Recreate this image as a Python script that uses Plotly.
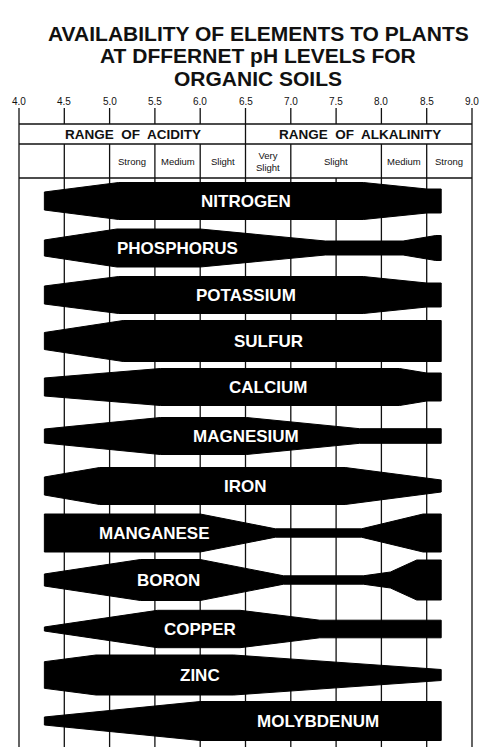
import plotly.graph_objects as go

# pH ticks and ranges
ticks = [4.0, 4.5, 5.0, 5.5, 6.0, 6.5, 7.0, 7.5, 8.0, 8.5, 9.0]
sub_labels = ["Strong", "Medium", "Slight", "Very<br>Slight", "Slight", "Medium", "Strong"]
sub_pos = [5.25, 5.75, 6.25, 6.75, 7.5, 8.25, 8.75]

# elements: name, center row (px), label pH, profile pH points, half-widths
elements = ["NITROGEN", "PHOSPHORUS", "POTASSIUM", "SULFUR", "CALCIUM", "MAGNESIUM",
            "IRON", "MANGANESE", "BORON", "COPPER", "ZINC", "MOLYBDENUM"]
row_y = [185, 232, 279, 325, 371, 420, 470, 517, 564, 613, 659, 705]
label_ph = [6.5, 5.75, 6.5, 6.75, 6.75, 6.5, 6.5, 5.5, 5.65, 6.0, 6.0, 7.3]
prof_ph = [
    [4.28, 5.1, 7.8, 8.5, 8.66],
    [4.28, 5.08, 6.0, 7.38, 8.24, 8.6, 8.66],
    [4.28, 5.1, 7.8, 8.5, 8.66],
    [4.28, 5.15, 8.66],
    [4.28, 5.56, 8.2, 8.5, 8.66],
    [4.28, 5.56, 6.51, 7.76, 8.66],
    [4.28, 4.89, 7.6, 8.66],
    [4.28, 6.0, 6.83, 7.78, 8.46, 8.66],
    [4.28, 5.34, 6.0, 6.92, 7.8, 8.1, 8.39, 8.66],
    [4.28, 5.53, 6.44, 7.32, 8.66],
    [4.28, 4.85, 6.37, 8.66],
    [4.28, 6.0, 8.66],
]
prof_half = [
    [9, 18.5, 18.5, 12, 12],
    [8, 19, 19, 7, 7, 12.5, 12.5],
    [9, 18.5, 18.5, 12, 12],
    [8.5, 20.5, 20.5],
    [9, 18.5, 18.5, 14, 14],
    [7, 18.5, 18.5, 7.3, 7.3],
    [9, 18.5, 18.5, 6],
    [19, 19, 4.2, 4.2, 19, 19],
    [6, 20.5, 20.5, 4.2, 4.2, 8, 20, 20],
    [2, 18.7, 18.7, 8.8, 8.8],
    [13.3, 20, 20, 5.5],
    [4, 19.5, 19.5],
]

px_per_ph = 90.6
x0 = 11  # page body adds an 8px offset
fig = go.Figure()

for name, yc, lx, xs, hs in zip(elements, row_y, label_ph, prof_ph, prof_half):
    px_x = xs + xs[::-1] + [xs[0]]
    px_y = [yc - h for h in hs] + [yc + h for h in hs[::-1]] + [yc - hs[0]]
    fig.add_trace(go.Scatter(x=px_x, y=px_y, fill="toself", fillcolor="black",
                             line=dict(color="black", width=1), mode="lines",
                             hoverinfo="skip", showlegend=False))
    fig.add_annotation(x=lx, y=yc, text="<b>" + name + "</b>", showarrow=False,
                       font=dict(family="Liberation Sans", size=17, color="white"))

line = dict(color="#111", width=1.3)
# horizontal lines
for yy in [108, 128, 162]:
    fig.add_shape(type="line", x0=4.0, x1=9.0, y0=yy, y1=yy, line=line, layer="below")
# vertical lines
for t in ticks:
    fig.add_shape(type="line", x0=t, x1=t, y0=92, y1=108, line=line, layer="below")
    if t in (4.0, 9.0, 6.5):
        fig.add_shape(type="line", x0=t, x1=t, y0=108, y1=128, line=line, layer="below")
    if t != 7.5:
        fig.add_shape(type="line", x0=t, x1=t, y0=128, y1=162, line=line, layer="below")
    fig.add_shape(type="line", x0=t, x1=t, y0=162, y1=733, line=line, layer="below")
    fig.add_annotation(x=t, y=85, text=f"{t:.1f}", showarrow=False,
                       font=dict(family="Liberation Sans", size=10, color="#111"))

for s, p in zip(sub_labels, sub_pos):
    fig.add_annotation(x=p, y=145, text=s, showarrow=False,
                       font=dict(family="Liberation Sans", size=9.5, color="#111"))
fig.add_annotation(x=5.26, y=118, text="<b>RANGE  OF  ACIDITY</b>", showarrow=False,
                   font=dict(family="Liberation Sans", size=13.5, color="#111"))
fig.add_annotation(x=7.76, y=118, text="<b>RANGE  OF  ALKALINITY</b>", showarrow=False,
                   font=dict(family="Liberation Sans", size=13.5, color="#111"))

for i, t in enumerate(["AVAILABILITY OF ELEMENTS TO PLANTS",
                       "AT DFFERNET pH LEVELS FOR", "ORGANIC SOILS"]):
    fig.add_annotation(x=4 + (250 - x0) / px_per_ph, y=17 + 22.5 * i, text="<b>" + t + "</b>",
                       showarrow=False, font=dict(family="Liberation Sans", size=21, color="#111"))

fig.update_layout(
    width=500, height=747, margin=dict(l=0, r=0, t=0, b=0),
    paper_bgcolor="white", plot_bgcolor="white",
    xaxis=dict(range=[4 - x0 / px_per_ph, 4 + (500 - x0) / px_per_ph], visible=False),
    yaxis=dict(range=[739, -8], visible=False),
)
fig.write_html("out.html")
